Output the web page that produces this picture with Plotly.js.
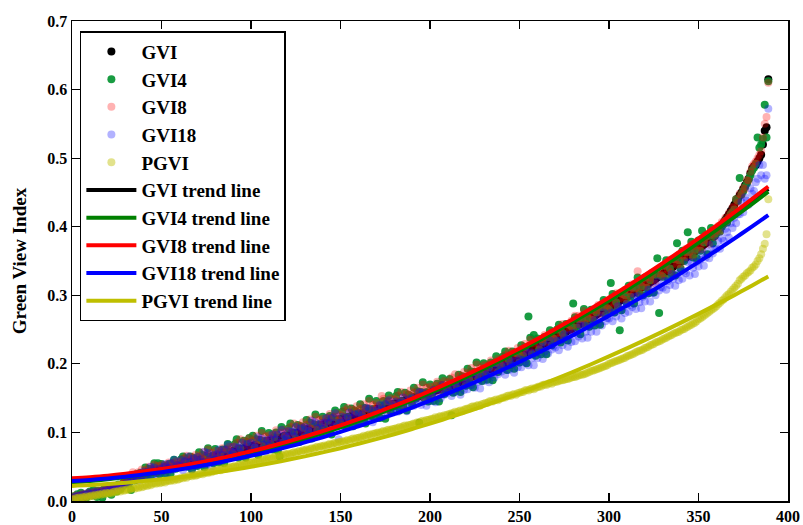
<!DOCTYPE html>
<html>
<head>
<meta charset="utf-8">
<script src="https://cdn.plot.ly/plotly-3.0.1.min.js"></script>
<style>html,body{margin:0;padding:0;background:#fff;}#chart{width:803px;height:525px;}</style>
</head>
<body>
<div id="chart"></div>
<script>
// Rank of each sample point (x axis), 0..389
const rank = Array.from({length: 390}, (_, i) => i);

// GVI (sorted) values per rank
const gvi = [
.003,.004,.005,.006,.006,.007,.008,.008,.009,.009,
.010,.010,.011,.011,.012,.012,.013,.013,.014,.014,
.015,.015,.016,.017,.017,.018,.019,.020,.022,.024,
.026,.028,.030,.031,.033,.034,.035,.036,.038,.039,
.040,.041,.041,.042,.043,.043,.044,.045,.046,.046,
.047,.048,.048,.049,.049,.050,.051,.051,.052,.052,
.053,.054,.054,.055,.055,.056,.057,.057,.058,.058,
.059,.060,.060,.061,.062,.062,.063,.064,.064,.065,
.066,.066,.067,.068,.068,.069,.070,.071,.071,.072,
.073,.073,.074,.075,.076,.076,.077,.078,.079,.079,
.080,.081,.081,.082,.083,.084,.084,.085,.086,.087,
.087,.088,.089,.090,.091,.091,.092,.093,.094,.095,
.095,.096,.097,.098,.099,.099,.100,.101,.102,.103,
.103,.104,.105,.106,.107,.107,.108,.109,.110,.111,
.111,.112,.113,.114,.115,.115,.116,.117,.118,.119,
.119,.120,.121,.121,.122,.123,.124,.124,.125,.126,
.126,.127,.128,.128,.129,.130,.131,.131,.132,.133,
.134,.135,.135,.136,.137,.138,.139,.139,.140,.141,
.142,.143,.143,.144,.145,.146,.147,.147,.148,.149,
.150,.151,.152,.152,.153,.154,.155,.156,.157,.157,
.158,.159,.160,.161,.162,.163,.163,.164,.165,.166,
.167,.168,.169,.170,.171,.172,.173,.174,.175,.176,
.178,.179,.180,.181,.182,.183,.184,.185,.186,.187,
.189,.190,.191,.192,.193,.194,.195,.196,.197,.199,
.200,.201,.202,.203,.205,.206,.207,.208,.209,.211,
.212,.213,.215,.216,.217,.218,.220,.221,.222,.224,
.225,.226,.228,.229,.230,.232,.233,.234,.236,.237,
.238,.240,.241,.243,.244,.246,.247,.249,.250,.251,
.253,.254,.256,.257,.259,.260,.262,.263,.265,.266,
.267,.269,.270,.272,.274,.275,.277,.278,.280,.281,
.283,.284,.286,.287,.289,.290,.292,.293,.295,.296,
.298,.300,.301,.303,.304,.306,.308,.309,.311,.312,
.314,.316,.317,.319,.321,.322,.324,.326,.328,.329,
.331,.333,.335,.336,.338,.340,.342,.344,.345,.347,
.349,.351,.353,.355,.357,.358,.360,.362,.364,.366,
.368,.370,.372,.374,.376,.378,.381,.383,.385,.387,
.392,.395,.399,.402,.406,.410,.414,.418,.423,.427,
.432,.437,.441,.446,.450,.455,.460,.465,.470,.478,
.485,.488,.490,.495,.500,.505,.520,.540,.545,.615];

// GVI4 values per rank
const gvi4 = [
.002,.007,.004,.010,.003,.012,.006,.009,.005,.011,
.014,.008,.016,.012,.006,.015,.010,.005,.018,.013,
.012,.020,.009,.018,.022,.014,.024,.017,.021,.028,
.024,.031,.027,.016,.036,.030,.039,.033,.041,.037,
.034,.049,.039,.047,.033,.046,.055,.041,.055,.039,
.054,.045,.040,.051,.054,.039,.055,.060,.047,.052,
.050,.061,.065,.062,.056,.050,.065,.046,.063,.061,
.051,.071,.058,.067,.049,.066,.077,.058,.066,.055,
.076,.062,.056,.070,.075,.055,.075,.083,.064,.072,
.069,.083,.090,.063,.077,.068,.088,.063,.086,.092,
.070,.095,.078,.090,.067,.089,.102,.078,.088,.075,
.099,.083,.075,.093,.100,.073,.065,.108,.085,.095,
.091,.106,.113,.086,.100,.091,.111,.086,.109,.107,
.093,.118,.102,.114,.091,.112,.126,.102,.112,.099,
.123,.107,.099,.117,.124,.097,.122,.132,.109,.119,
.115,.130,.137,.109,.123,.115,.135,.109,.132,.130,
.116,.141,.125,.136,.113,.135,.149,.124,.134,.121,
.146,.130,.121,.139,.146,.120,.145,.154,.131,.141,
.138,.153,.159,.132,.146,.138,.158,.132,.155,.153,
.140,.165,.149,.160,.114,.159,.173,.149,.159,.145,
.170,.154,.146,.164,.171,.145,.169,.179,.156,.166,
.163,.178,.125,.158,.172,.164,.184,.159,.182,.180,
.168,.193,.177,.189,.166,.188,.202,.178,.188,.175,
.201,.185,.177,.195,.202,.176,.201,.211,.188,.199,
.196,.211,.218,.191,.206,.198,.218,.193,.216,.215,
.202,.227,.212,.224,.201,.269,.238,.214,.242,.212,
.237,.221,.214,.232,.239,.214,.239,.249,.227,.237,
.234,.250,.257,.231,.245,.238,.258,.234,.257,.255,
.288,.268,.253,.265,.243,.265,.280,.256,.267,.254,
.279,.264,.256,.275,.283,.257,.283,.293,.271,.281,
.279,.318,.302,.275,.290,.282,.249,.278,.302,.300,
.288,.314,.298,.311,.288,.311,.326,.302,.313,.300,
.326,.311,.303,.322,.330,.304,.330,.354,.274,.329,
.327,.343,.351,.324,.339,.332,.353,.329,.376,.351,
.339,.365,.350,.363,.392,.363,.378,.355,.366,.354,
.380,.365,.394,.377,.385,.360,.387,.398,.376,.387,
.390,.396,.393,.400,.404,.409,.406,.413,.418,.421,
.425,.440,.438,.471,.447,.452,.458,.463,.469,.475,
.482,.486,.492,.530,.515,.520,.528,.578,.530,.612];

// GVI8 values per rank
const gvi8 = [
.005,.003,.008,.007,.004,.009,.010,.006,.011,.008,
.012,.009,.013,.010,.015,.011,.014,.016,.013,.017,
.016,.018,.014,.019,.020,.017,.022,.021,.025,.027,
.030,.026,.037,.032,.042,.031,.038,.042,.038,.046,
.038,.045,.042,.050,.042,.046,.053,.042,.051,.046,
.053,.050,.045,.053,.056,.050,.047,.055,.058,.051,
.057,.051,.062,.055,.066,.051,.060,.064,.057,.067,
.055,.065,.061,.071,.060,.066,.075,.060,.070,.065,
.073,.068,.063,.073,.077,.069,.064,.075,.079,.070,
.079,.070,.085,.076,.090,.070,.081,.087,.078,.091,
.076,.088,.083,.095,.081,.089,.099,.080,.094,.087,
.096,.091,.084,.097,.103,.091,.085,.099,.104,.093,
.101,.093,.108,.099,.113,.093,.104,.110,.101,.115,
.099,.111,.107,.119,.105,.112,.123,.104,.118,.111,
.120,.115,.108,.121,.127,.115,.109,.123,.128,.117,
.125,.117,.132,.122,.136,.117,.128,.133,.124,.138,
.122,.134,.130,.141,.127,.135,.146,.126,.140,.133,
.143,.138,.130,.153,.149,.138,.132,.145,.150,.139,
.148,.140,.154,.145,.159,.140,.151,.156,.147,.161,
.146,.158,.154,.165,.151,.159,.170,.151,.165,.157,
.167,.162,.155,.168,.174,.163,.156,.170,.175,.164,
.173,.165,.180,.171,.185,.166,.177,.183,.174,.188,
.174,.186,.182,.194,.180,.188,.199,.180,.194,.187,
.198,.193,.186,.199,.205,.194,.188,.202,.207,.197,
.206,.198,.213,.204,.219,.200,.211,.217,.208,.223,
.208,.220,.217,.229,.215,.223,.235,.216,.230,.224,
.234,.229,.223,.236,.242,.232,.226,.240,.246,.235,
.244,.237,.252,.244,.258,.240,.251,.258,.249,.263,
.249,.270,.258,.270,.257,.265,.277,.258,.273,.266,
.276,.272,.265,.279,.286,.275,.270,.284,.290,.279,
.289,.281,.297,.288,.303,.284,.296,.302,.294,.308,
.294,.307,.303,.316,.302,.311,.335,.304,.319,.312,
.323,.319,.312,.326,.333,.322,.317,.332,.338,.327,
.337,.330,.346,.337,.352,.334,.346,.353,.344,.359,
.345,.358,.355,.368,.355,.363,.375,.357,.372,.366,
.377,.373,.367,.381,.388,.378,.374,.389,.395,.385,
.395,.401,.393,.407,.404,.413,.408,.420,.417,.428,
.430,.440,.435,.448,.446,.457,.455,.468,.467,.480,
.488,.492,.495,.500,.505,.510,.530,.550,.560,.610];

// GVI18 values per rank
const gvi18 = [
.004,.006,.003,.008,.007,.005,.010,.009,.007,.012,
.011,.008,.013,.010,.014,.012,.011,.015,.013,.016,
.014,.017,.015,.018,.016,.020,.018,.021,.019,.023,
.025,.031,.026,.032,.031,.038,.035,.030,.040,.036,
.043,.035,.042,.039,.050,.036,.049,.043,.036,.047,
.042,.050,.054,.040,.048,.055,.045,.060,.049,.052,
.051,.060,.045,.058,.050,.065,.057,.045,.062,.051,
.064,.052,.061,.057,.072,.052,.070,.061,.050,.067,
.060,.068,.075,.057,.067,.075,.063,.082,.067,.072,
.071,.079,.065,.078,.071,.085,.077,.066,.083,.072,
.085,.073,.082,.078,.093,.074,.091,.082,.072,.089,
.081,.090,.097,.079,.090,.097,.085,.104,.090,.095,
.093,.102,.088,.101,.094,.108,.100,.089,.106,.096,
.108,.096,.106,.102,.117,.097,.115,.106,.096,.113,
.105,.114,.121,.103,.114,.121,.109,.128,.114,.090,
.114,.123,.109,.121,.114,.129,.121,.109,.126,.116,
.128,.116,.126,.121,.136,.117,.135,.125,.115,.132,
.125,.134,.140,.122,.133,.141,.129,.147,.133,.138,
.136,.145,.130,.143,.136,.151,.143,.131,.148,.138,
.151,.139,.149,.144,.159,.140,.158,.149,.139,.155,
.146,.155,.162,.144,.155,.163,.150,.169,.155,.160,
.158,.167,.153,.166,.159,.174,.166,.155,.172,.162,
.175,.163,.173,.169,.184,.165,.183,.174,.164,.181,
.175,.184,.191,.173,.184,.192,.180,.199,.185,.191,
.189,.198,.184,.197,.191,.206,.198,.187,.204,.195,
.207,.195,.206,.202,.217,.198,.217,.208,.198,.216,
.208,.217,.225,.207,.218,.227,.215,.234,.221,.226,
.224,.234,.220,.234,.227,.243,.235,.225,.242,.232,
.245,.233,.244,.240,.256,.237,.256,.247,.238,.255,
.247,.257,.264,.247,.259,.267,.256,.275,.262,.267,
.266,.275,.262,.275,.269,.284,.277,.266,.284,.274,
.287,.276,.286,.283,.298,.280,.299,.290,.281,.298,
.291,.301,.308,.291,.303,.311,.300,.320,.307,.312,
.311,.321,.308,.321,.315,.331,.324,.314,.331,.322,
.335,.324,.335,.332,.348,.329,.348,.340,.331,.349,
.342,.352,.360,.343,.355,.364,.354,.374,.361,.367,
.368,.379,.368,.383,.379,.397,.392,.384,.405,.398,
.413,.405,.418,.418,.436,.421,.443,.438,.432,.456,
.448,.452,.465,.470,.490,.475,.490,.470,.475,.572];

// PGVI values per rank
const pgvi = [
.003,.002,.004,.004,.005,.004,.006,.005,.007,.006,
.007,.008,.007,.009,.008,.010,.009,.011,.010,.012,
.011,.012,.011,.013,.014,.013,.015,.014,.016,.015,
.016,.017,.016,.018,.019,.018,.020,.019,.021,.020,
.021,.023,.022,.024,.023,.025,.026,.025,.027,.026,
.027,.028,.027,.029,.030,.029,.031,.030,.032,.031,
.032,.034,.033,.035,.034,.036,.037,.036,.038,.037,
.038,.039,.040,.039,.041,.042,.041,.043,.042,.044,
.044,.045,.046,.045,.047,.048,.047,.049,.048,.050,
.050,.051,.050,.052,.053,.052,.054,.055,.054,.056,
.056,.057,.056,.058,.059,.058,.060,.061,.060,.062,
.062,.063,.062,.064,.065,.064,.066,.067,.066,.068,
.068,.069,.068,.070,.071,.070,.072,.073,.072,.074,
.074,.075,.074,.076,.077,.076,.078,.079,.078,.080,
.080,.081,.080,.082,.083,.082,.084,.085,.084,.086,
.086,.087,.086,.088,.089,.088,.090,.091,.090,.092,
.092,.093,.093,.095,.094,.096,.097,.096,.098,.098,
.099,.100,.099,.101,.102,.101,.103,.104,.103,.105,
.105,.106,.106,.108,.107,.109,.110,.109,.111,.111,
.112,.113,.113,.115,.114,.116,.117,.116,.118,.118,
.119,.120,.120,.122,.121,.123,.124,.123,.125,.125,
.126,.127,.128,.128,.130,.129,.131,.132,.131,.133,
.134,.135,.135,.137,.138,.137,.139,.140,.139,.141,
.142,.143,.143,.145,.146,.145,.147,.148,.147,.149,
.150,.151,.151,.153,.154,.153,.155,.156,.155,.157,
.158,.159,.159,.161,.162,.161,.163,.164,.163,.165,
.166,.167,.167,.169,.170,.169,.171,.172,.171,.173,
.174,.174,.175,.176,.176,.177,.178,.178,.179,.180,
.181,.181,.182,.183,.184,.184,.185,.186,.187,.188,
.190,.190,.191,.192,.193,.194,.195,.196,.197,.198,
.200,.201,.202,.203,.204,.205,.206,.207,.208,.209,
.211,.212,.213,.214,.215,.217,.218,.219,.220,.221,
.223,.224,.225,.227,.228,.229,.231,.232,.233,.234,
.236,.237,.238,.240,.241,.242,.244,.245,.246,.247,
.249,.250,.251,.253,.254,.256,.257,.259,.260,.262,
.265,.266,.268,.270,.272,.274,.276,.278,.280,.282,
.284,.287,.289,.292,.294,.297,.300,.302,.305,.308,
.311,.314,.317,.322,.324,.327,.329,.332,.334,.336,
.340,.342,.345,.350,.354,.360,.368,.375,.389,.440];

// Trend lines, read at these ranks
const trendX = [0,10,20,30,40,50,60,70,80,90,100,110,120,130,140,150,160,170,180,190,
  200,210,220,230,240,250,260,270,280,290,300,310,320,330,340,350,360,370,380,389];
const gviTrend = [.030,.032,.0344,.0373,.0406,.0445,.0488,.0536,.0588,.0646,.0708,.0775,.0846,.0923,.1004,.1090,.1180,.1276,.1375,.1480,
  .1590,.1704,.1823,.1946,.2075,.2208,.2346,.2488,.2636,.2788,.2945,.3107,.3273,.3444,.3620,.3800,.3985,.4175,.4370,.4550];
const gvi4Trend = [.027,.0291,.0317,.0348,.0383,.0422,.0467,.0516,.0569,.0628,.0691,.0758,.0830,.0907,.0989,.1075,.1166,.1261,.1361,.1466,
  .1575,.1689,.1807,.1930,.2058,.2191,.2328,.2469,.2616,.2767,.2922,.3083,.3247,.3417,.3591,.3770,.3953,.4141,.4334,.4512];
const gvi8Trend = [.033,.0348,.0370,.0398,.0430,.0467,.0509,.0556,.0607,.0664,.0725,.0791,.0862,.0938,.1019,.1104,.1194,.1290,.1389,.1494,
  .1604,.1719,.1838,.1962,.2091,.2225,.2364,.2507,.2656,.2809,.2967,.3130,.3298,.3470,.3648,.3830,.4017,.4209,.4406,.4587];
const gvi18Trend = [.029,.0307,.0329,.0355,.0386,.0420,.0459,.0503,.0551,.0603,.0659,.0720,.0785,.0855,.0929,.1007,.1090,.1176,.1268,.1363,
  .1463,.1568,.1676,.1789,.1906,.2028,.2154,.2285,.2419,.2558,.2702,.2849,.3002,.3158,.3319,.3484,.3653,.3827,.4005,.4169];
const pgviTrend = [.022,.0232,.0248,.0267,.0290,.0316,.0345,.0379,.0415,.0455,.0499,.0546,.0597,.0651,.0709,.0770,.0835,.0903,.0974,.1050,
  .1128,.1211,.1296,.1386,.1478,.1574,.1674,.1777,.1884,.1994,.2108,.2225,.2346,.2470,.2598,.2729,.2864,.3002,.3144,.3275];

const FONT = 'Liberation Serif, Times New Roman, serif';

function pts(name, y, color) {
  return {type: 'scatter', mode: 'markers', name: name, x: rank, y: y,
    marker: {size: 8, color: color, line: {width: 0}}};
}
function trend(name, y, color) {
  return {type: 'scatter', mode: 'lines', name: name, x: trendX, y: y,
    line: {color: color, width: 4, shape: 'spline'}};
}

const data = [
  pts('GVI', gvi, 'rgba(0,0,0,1)'),
  pts('GVI4', gvi4, 'rgba(0,145,45,0.9)'),
  pts('GVI8', gvi8, 'rgba(255,0,0,0.3)'),
  pts('GVI18', gvi18, 'rgba(0,0,255,0.3)'),
  pts('PGVI', pgvi, 'rgba(191,191,0,0.45)'),
  trend('GVI trend line', gviTrend, '#000000'),
  trend('GVI4 trend line', gvi4Trend, '#008000'),
  trend('GVI8 trend line', gvi8Trend, '#ff0000'),
  trend('GVI18 trend line', gvi18Trend, '#0000ff'),
  trend('PGVI trend line', pgviTrend, '#bfbf00')
];

const axisCommon = {
  showline: true, linecolor: '#000', linewidth: 1.5, mirror: 'ticks',
  ticks: 'inside', ticklen: 8, tickwidth: 1.2, tickcolor: '#000',
  showgrid: false, zeroline: false, automargin: false,
  tickfont: {family: FONT, size: 16, weight: 'bold', color: '#000'}
};

const layout = {
  width: 803, height: 525,
  margin: {l: 72, r: 15, t: 21, b: 24},
  paper_bgcolor: '#fff', plot_bgcolor: '#fff',
  showlegend: true,
  legend: {
    x: 0.011, y: 0.979, xanchor: 'left', yanchor: 'top',
    bgcolor: '#fff', bordercolor: '#000', borderwidth: 1.5,
    font: {family: FONT, size: 19, weight: 'bold', color: '#000'},
    itemwidth: 50
  },
  xaxis: Object.assign({}, axisCommon, {range: [0, 400], dtick: 50, tick0: 0}),
  yaxis: Object.assign({}, axisCommon, {range: [0, 0.7], dtick: 0.1, tick0: 0, tickformat: '.1f',
    title: {text: 'Green View Index', font: {family: FONT, size: 19, weight: 'bold', color: '#000'}, standoff: 15}})
};

Plotly.newPlot('chart', data, layout, {displayModeBar: false, staticPlot: true});
</script>
</body>
</html>
